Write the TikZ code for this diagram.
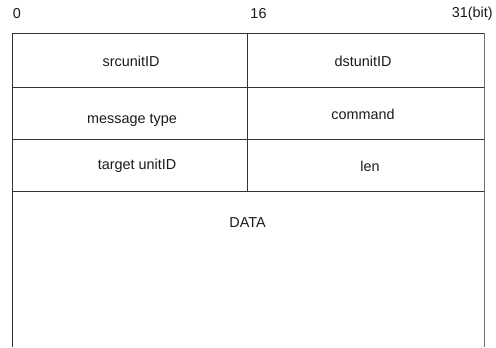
\documentclass[tikz,border=0pt]{standalone}
\usepackage{fontspec}
\setmainfont{Liberation Sans}
\usetikzlibrary{positioning}
\definecolor{pkborda}{HTML}{333333}
\definecolor{pkbordaclara}{HTML}{6F6F6F}
\definecolor{pktexto}{HTML}{1A1A1A}
\tikzset{
  pklinha/.style={draw=pkborda, line width=0.75pt},
  pklinhaclara/.style={draw=pkbordaclara, line width=0.75pt},
  pkcampo/.style={font=\fontsize{10.8}{13}\selectfont, text=pktexto, inner sep=0pt},
  pkbit/.style={font=\fontsize{10.8}{13}\selectfont, text=pktexto, inner sep=0pt},
}
\begin{document}
\begin{tikzpicture}[x=0.75pt, y=-0.75pt]
        \useasboundingbox (0,0) rectangle (496,347);
        % posicoes dos bits
        \node[pkbit] (b0) at (17,14) {0};
        \node[pkbit] (b16) at (258.5,14) {16};
        \node[pkbit, anchor=east] (b31) at (493,14) {31(bit)};
        % grade do cabecalho
        \coordinate (tl) at (12,33);
        \coordinate (tm) at (247,33);
        \coordinate (tr) at (484,33);
        \draw[pklinha] (12,347) -- (tl) -- (tr);
        \draw[pklinhaclara] (tr) -- (484,347);
        \draw[pklinha] (tm) -- (247,191);
        \draw[pklinha] (12,87) -- (484,87);
        \draw[pklinha] (12,139) -- (484,139);
        \draw[pklinha] (12,191) -- (484,191);
        % campos
        \node[pkcampo] (src) at (131,61) {srcunitID};
        \node[pkcampo] (dst) at (363,61) {dstunitID};
        \node[pkcampo] (tipo) at (132,120) {message type};
        \node[pkcampo] (cmd) at (363,114) {command};
        \node[pkcampo] (alvo) at (137,166) {target unitID};
        \node[pkcampo] (len) at (370,166) {len};
        \node[pkcampo] (data) at (247.5,223) {DATA};
    \end{tikzpicture}
\end{document}
